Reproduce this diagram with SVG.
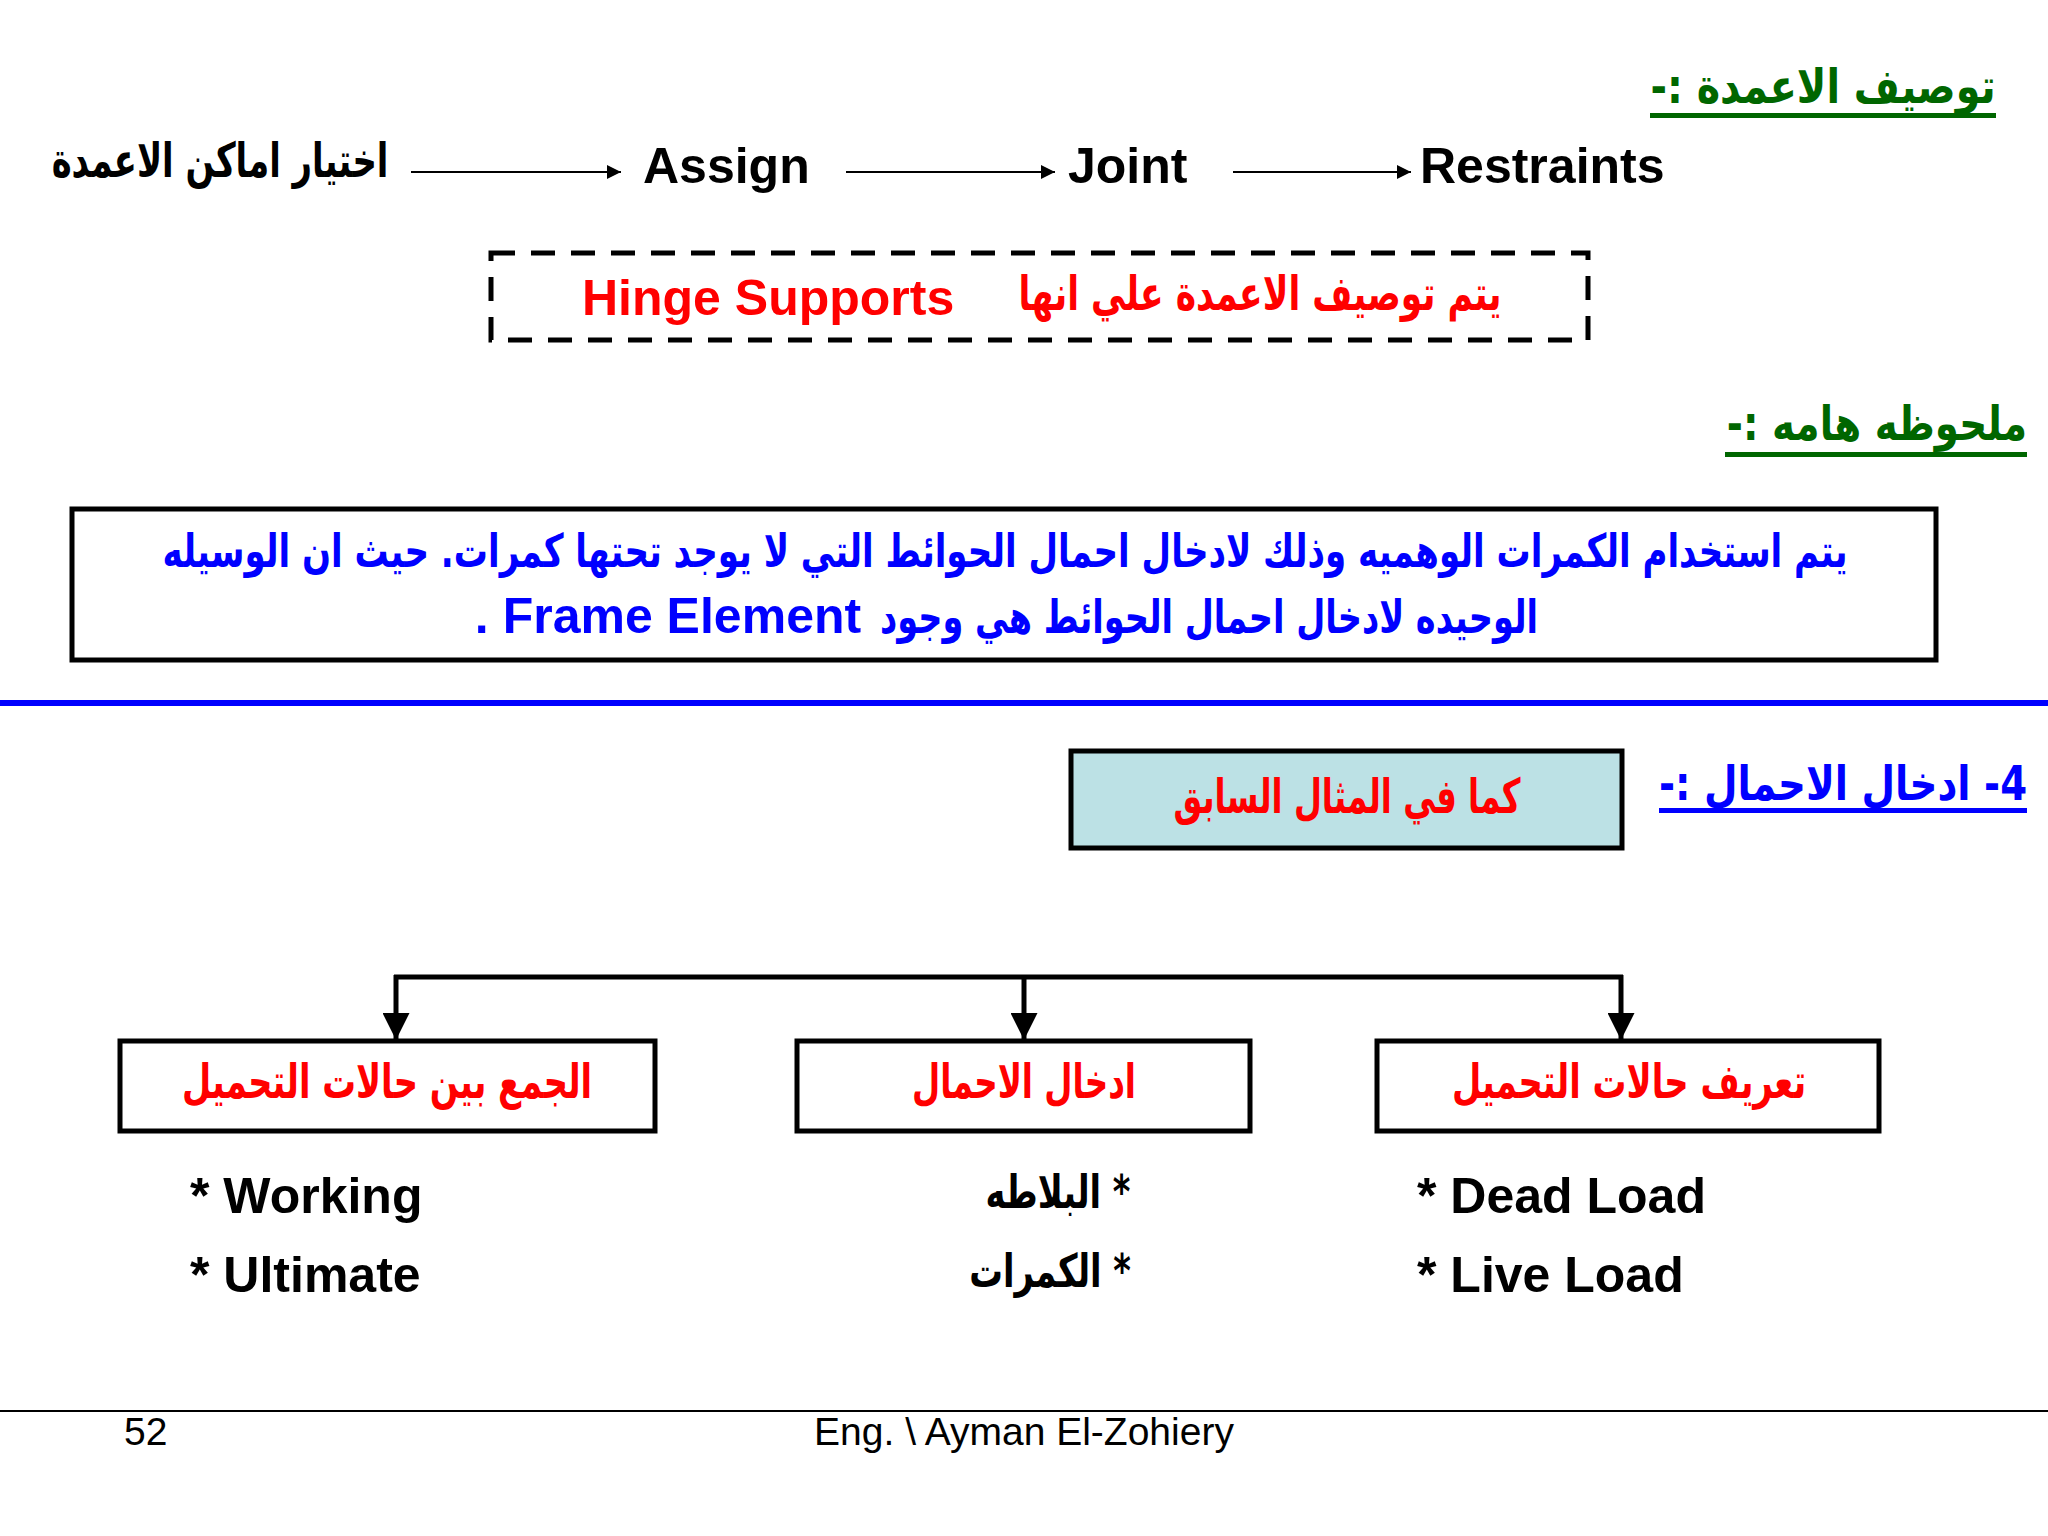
<svg xmlns="http://www.w3.org/2000/svg" width="2048" height="1536" viewBox="0 0 2048 1536">
<style>
.en{font-family:"Liberation Sans",Arial,"DejaVu Sans",sans-serif;font-weight:bold;font-size:50px;fill:#000}
.ar{font-family:"DejaVu Sans",sans-serif;font-weight:bold;font-size:48px}
.arn{font-family:"DejaVu Sans",sans-serif;font-weight:bold;font-size:46px}
.red{fill:#FF0000}
.blue{fill:#0000FF}
.green{fill:#006600}
.blk{fill:#000}
.box{fill:#fff;stroke:#000;stroke-width:5}
.thin{stroke:#000;stroke-width:2;fill:none}
.conn{stroke:#000;stroke-width:5;fill:none}
.foot{font-family:"Liberation Sans",Arial,sans-serif;font-size:39px;fill:#000}
</style>
<defs>
<marker id="sa" viewBox="0 0 10 10" refX="10" refY="5" markerWidth="15" markerHeight="14" markerUnits="userSpaceOnUse" orient="auto"><path d="M0,0 L10,5 L0,10 Z" fill="#000"/></marker>
<marker id="ba" viewBox="0 0 10 10" refX="10" refY="5" markerWidth="27" markerHeight="27" markerUnits="userSpaceOnUse" orient="auto"><path d="M0,0 L10,5 L0,10 Z" fill="#000"/></marker>
</defs>
<rect width="2048" height="1536" fill="#fff"/>

<g id="title-columns">
<text class="ar green" transform="translate(1823,103) scale(0.7,1)" direction="rtl" text-anchor="middle" textLength="493" lengthAdjust="spacingAndGlyphs">توصيف الاعمدة :-</text>
<rect x="1650" y="113" width="346" height="5" fill="#006600"/>
</g>

<g id="n-choose">
<text class="ar blk" transform="translate(220,177) scale(0.7,1)" direction="rtl" text-anchor="middle" textLength="481" lengthAdjust="spacingAndGlyphs">اختيار اماكن الاعمدة</text>
</g>
<g id="n-assign"><text class="en" x="643" y="183">Assign</text></g>
<g id="n-joint"><text class="en" x="1068" y="183">Joint</text></g>
<g id="n-restraints"><text class="en" x="1420" y="183">Restraints</text></g>

<g id="n-hinge">
<rect x="491" y="253" width="1097" height="87" fill="none" stroke="#000" stroke-width="5" stroke-dasharray="24 16"/>
<text class="en red" x="582" y="315">Hinge Supports</text>
<text class="ar red" transform="translate(1260,310) scale(0.7,1)" direction="rtl" text-anchor="middle" textLength="690" lengthAdjust="spacingAndGlyphs">يتم توصيف الاعمدة علي انها</text>
</g>

<g id="title-note">
<text class="ar green" transform="translate(1877,440) scale(0.7,1)" direction="rtl" text-anchor="middle" textLength="429" lengthAdjust="spacingAndGlyphs">ملحوظه هامه :-</text>
<rect x="1725" y="452" width="302" height="5" fill="#006600"/>
</g>

<g id="n-note">
<rect class="box" x="72" y="509" width="1864" height="151"/>
<text class="arn blue" transform="translate(1005,567) scale(0.7,1)" direction="rtl" text-anchor="middle" textLength="2407" lengthAdjust="spacingAndGlyphs">يتم استخدام الكمرات الوهميه وذلك لادخال احمال الحوائط  التي لا يوجد تحتها كمرات. حيث ان الوسيله</text>
<text class="arn blue" transform="translate(1209,633) scale(0.7,1)" direction="rtl" text-anchor="middle" textLength="940" lengthAdjust="spacingAndGlyphs">الوحيده لادخال احمال الحوائط هي وجود</text>
<text class="en blue" x="668" y="633" direction="rtl" text-anchor="middle">Frame Element .</text>
</g>

<rect id="separator" x="0" y="700" width="2048" height="6" fill="#0000FF"/>

<g id="title-loads">
<text class="ar blue" transform="translate(1843,800) scale(0.7,1)" direction="rtl" text-anchor="middle" textLength="526" lengthAdjust="spacingAndGlyphs">4- ادخال الاحمال :-</text>
<rect x="1659" y="808" width="368" height="5" fill="#0000FF"/>
</g>

<g id="n-previous">
<rect x="1071" y="751" width="551" height="97" fill="#BCE1E5" stroke="#000" stroke-width="5"/>
<text class="ar red" transform="translate(1347,813) scale(0.7,1)" direction="rtl" text-anchor="middle" textLength="496" lengthAdjust="spacingAndGlyphs">كما في المثال السابق</text>
</g>

<g id="n-combine">
<rect class="box" x="120" y="1041" width="535" height="90"/>
<text class="ar red" transform="translate(387,1098) scale(0.7,1)" direction="rtl" text-anchor="middle" textLength="586" lengthAdjust="spacingAndGlyphs">الجمع بين حالات التحميل</text>
</g>
<g id="n-enter">
<rect class="box" x="797" y="1041" width="453" height="90"/>
<text class="ar red" transform="translate(1024,1098) scale(0.7,1)" direction="rtl" text-anchor="middle" textLength="320" lengthAdjust="spacingAndGlyphs">ادخال الاحمال</text>
</g>
<g id="n-define">
<rect class="box" x="1377" y="1041" width="502" height="90"/>
<text class="ar red" transform="translate(1629,1098) scale(0.7,1)" direction="rtl" text-anchor="middle" textLength="506" lengthAdjust="spacingAndGlyphs">تعريف حالات التحميل</text>
</g>

<g id="list-combine">
<text class="en" x="190" y="1213">* Working</text>
<text class="en" x="190" y="1292">* Ultimate</text>
</g>
<g id="list-enter">
<text class="arn blk" transform="translate(1058,1208) scale(0.7,1)" direction="rtl" text-anchor="middle" textLength="207" lengthAdjust="spacingAndGlyphs">* البلاطه</text>
<text class="arn blk" transform="translate(1050,1287) scale(0.7,1)" direction="rtl" text-anchor="middle" textLength="231" lengthAdjust="spacingAndGlyphs">* الكمرات</text>
</g>
<g id="list-define">
<text class="en" x="1417" y="1213">* Dead Load</text>
<text class="en" x="1417" y="1292">* Live Load</text>
</g>

<g id="connectors">
<line class="thin" x1="411" y1="172" x2="621" y2="172" marker-end="url(#sa)"/>
<line class="thin" x1="846" y1="172" x2="1055" y2="172" marker-end="url(#sa)"/>
<line class="thin" x1="1233" y1="172" x2="1411" y2="172" marker-end="url(#sa)"/>
<line class="conn" x1="394" y1="977" x2="1623" y2="977"/>
<line class="conn" x1="396" y1="975" x2="396" y2="1040" marker-end="url(#ba)"/>
<line class="conn" x1="1024" y1="975" x2="1024" y2="1040" marker-end="url(#ba)"/>
<line class="conn" x1="1621" y1="975" x2="1621" y2="1040" marker-end="url(#ba)"/>
</g>

<g id="footer">
<line x1="0" y1="1411" x2="2048" y2="1411" stroke="#000" stroke-width="2"/>
<text class="foot" x="124" y="1445">52</text>
<text class="foot" x="1024" y="1445" text-anchor="middle">Eng. \ Ayman El-Zohiery</text>
</g>
</svg>
